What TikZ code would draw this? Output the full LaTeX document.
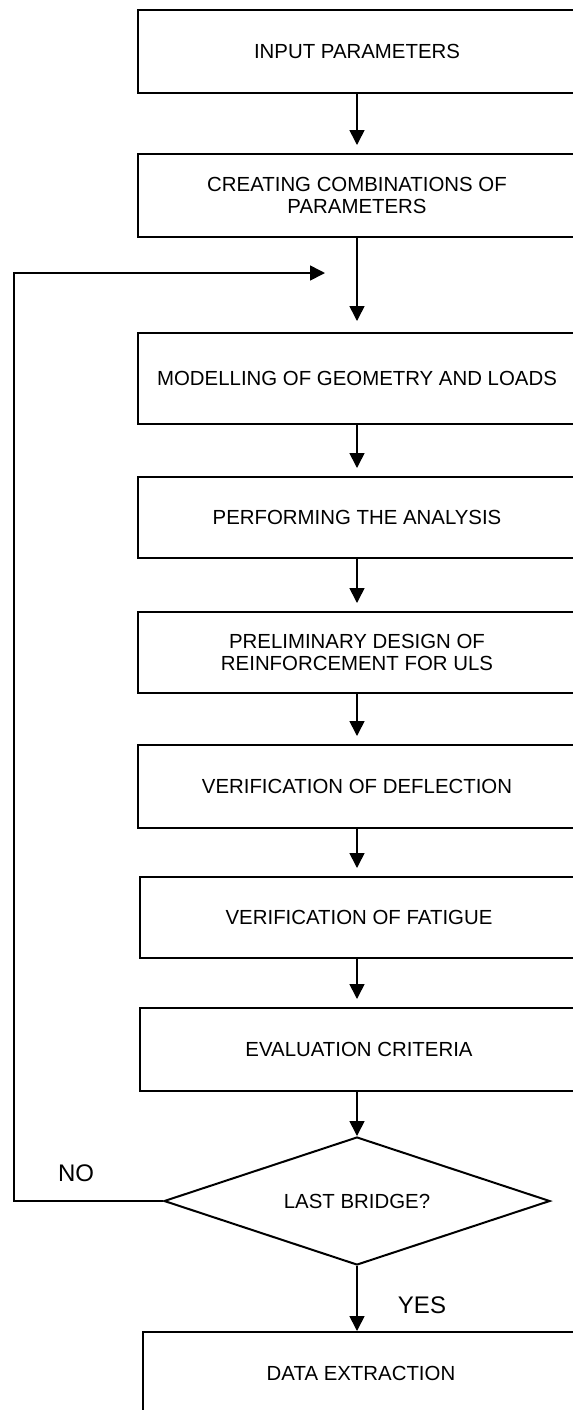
\documentclass[tikz,border=0pt]{standalone}
\usepackage{fontspec}
\setmainfont{Liberation Sans}
\usepackage{xcolor}
\usepackage{tikz}
\usetikzlibrary{math,shapes.geometric,arrows.meta}

\begin{document}
\begin{tikzpicture}[x=0.5pt,y=-0.5pt,
	box/.style={draw,line width=1pt,minimum width=219.5pt,minimum height=41.5pt,inner sep=0pt,align=center,font=\fontsize{10.2}{11.4}\selectfont},
	dec/.style={draw,diamond,line width=1pt,minimum width=193pt,minimum height=64pt,inner sep=0pt,aspect=3,font=\fontsize{10.2}{11.4}\selectfont},
	arr/.style={-{Triangle[width=7.5pt,length=7.5pt]},line width=0.8pt},
	gap/.style={shorten >=4pt},
	lbl/.style={font=\fontsize{12}{14}\selectfont}]
\useasboundingbox (0,0) rectangle (573,1410);
\clip (0,0) rectangle (573,1410);
\tikzmath{
	\cx = 357;
	{\node[box] (inp) at (\cx,51.5) {INPUT PARAMETERS};};
	{\node[box] (comb) at (\cx,195.5) {CREATING COMBINATIONS OF\\PARAMETERS};};
	{\node[box,minimum height=45.5pt] (geom) at (\cx,378.5) {MODELLING OF GEOMETRY AND LOADS};};
	{\node[box,minimum height=40.5pt] (anal) at (\cx,517.5) {PERFORMING THE ANALYSIS};};
	{\node[box,minimum height=40.5pt] (uls) at (\cx,652.5) {PRELIMINARY DESIGN OF\\REINFORCEMENT FOR ULS};};
	{\node[box] (defl) at (\cx,786.5) {VERIFICATION OF DEFLECTION};};
	{\node[box,minimum width=219pt,minimum height=40.5pt] (fat) at (\cx+2,917.5) {VERIFICATION OF FATIGUE};};
	{\node[box,minimum width=219pt] (eval) at (\cx+2,1049.5) {EVALUATION CRITERIA};};
	{\node[dec] (last) at (\cx,1201) {LAST BRIDGE?};};
	{\node[box,minimum width=218pt] (data) at (\cx+4,1373.5) {DATA EXTRACTION};};
	%
	{\draw[arr,gap] (inp) -- (comb);};
	{\draw[arr,gap,shorten >=5.5pt] (comb) -- (geom);};
	{\draw[arr,gap] (geom) -- (anal);};
	{\draw[arr,gap] (anal) -- (uls);};
	{\draw[arr,gap] (uls) -- (defl);};
	{\draw[arr,gap] (defl) -- ([xshift=-1pt]fat.north);};
	{\draw[arr,gap] ([xshift=-1pt]fat.south) -- ([xshift=-1pt]eval.north);};
	{\draw[arr] ([xshift=-1pt]eval.south) -- (last.north);};
	{\draw[arr] (last.south) -- (last.south |- data.north);};
	%
	{\coordinate (back) at (325,273);};
	{\draw[arr] (last.west) -- ++(-149,0) |- (back);};
	{\node[lbl] (no) at (76,1173) {NO};};
	{\node[lbl] (yes) at (422,1305) {YES};};
};
\end{tikzpicture}
\end{document}
